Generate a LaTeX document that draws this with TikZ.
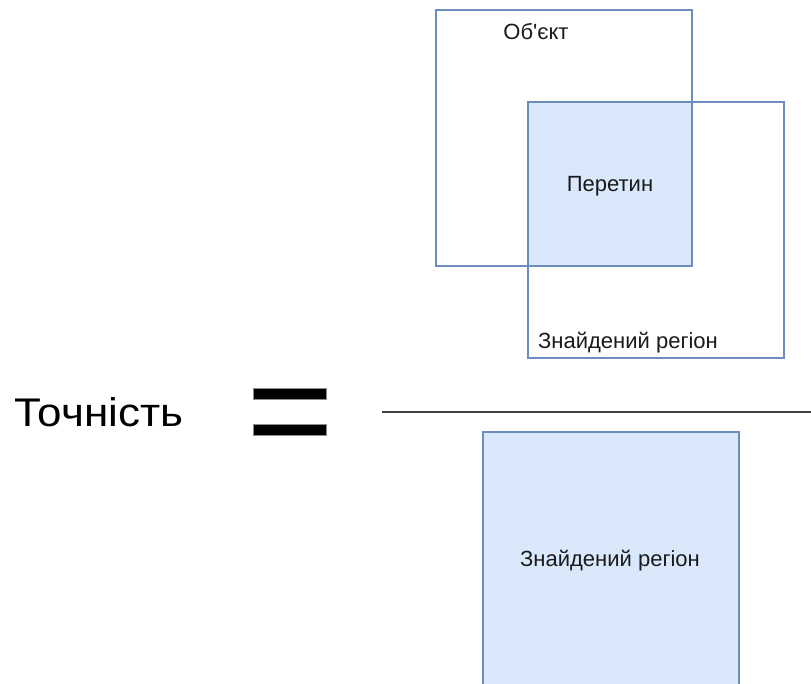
\documentclass[tikz,border=0pt]{standalone}
\usepackage{fontspec}
\setmainfont{Liberation Sans}
\definecolor{boxfill}{HTML}{DAE8FC}
\definecolor{boxline}{HTML}{6C8EBF}
\definecolor{txt}{HTML}{1A1A1A}
\newcommand{\straightapos}{{\addfontfeatures{Ligatures=TeXOff}'}}
\begin{document}
\begin{tikzpicture}[x=1pt,y=-1pt,
  region/.style={draw=boxline,line width=1.6pt,inner sep=0pt,
    minimum width=256pt,minimum height=256pt},
  filled/.style={fill=boxfill},
  lbl/.style={inner sep=0pt,text=txt,font=\fontsize{22}{25}\selectfont},
  bar/.style={fill=black,draw=black!45,line width=0.6pt,inner sep=0pt,
    minimum width=73pt,minimum height=11pt}]
\useasboundingbox (0,0) rectangle (811,684);
\clip (0,0) rectangle (811,684);
\fill[white] (0,0) rectangle (811,684);

% numerator: object and found region overlapping
\node[fill=boxfill,inner sep=0pt,minimum width=164pt,minimum height=164pt] (inter) at (610,184) {};
\node[region] (obj) at (564,138) {};
\node[region] (found) at (656,230) {};
\node[lbl] (objlbl) at (536,31.5) {Об\straightapos єкт};
\node[lbl] (interlbl) at (610,186.5) {Перетин};
\node[lbl,anchor=west] (foundlbl) at (538,342.5) {Знайдений регіон};

% left-hand side and the equals sign
\node[inner sep=0pt,anchor=west,font=\fontsize{40}{44}\selectfont,xscale=1.1] (acc) at (14,412) {Точність};
\node[bar] (eqtop) at (290,393.5) {};
\node[bar] (eqbot) at (290,430) {};

% fraction line
\coordinate (fracL) at (382,412);
\coordinate (fracR) at (811,412);
\draw[line width=2pt,color=black!75] (fracL) -- (fracR);

% denominator
\node[region,filled,anchor=north west] (denom) at (482,431) {};
\node[lbl] (denomlbl) at (610,561) {Знайдений регіон};
\end{tikzpicture}
\end{document}
